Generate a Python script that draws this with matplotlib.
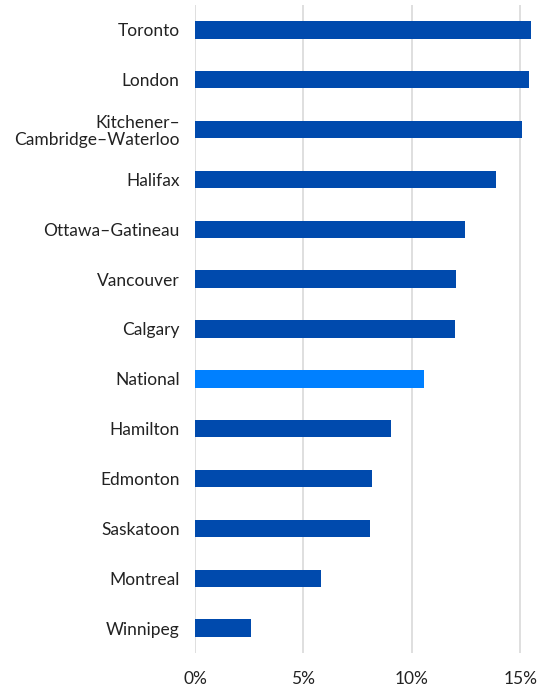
import matplotlib.pyplot as plt
from matplotlib.ticker import FuncFormatter

plt.rcParams['font.family'] = ['Lato', 'DejaVu Sans']

# data, top to bottom as in the chart
cities = ['Toronto', 'London', 'Kitchener–\nCambridge–Waterloo', 'Halifax',
          'Ottawa–Gatineau', 'Vancouver', 'Calgary', 'National', 'Hamilton',
          'Edmonton', 'Saskatoon', 'Montreal', 'Winnipeg']
values = [15.5, 15.4, 15.1, 13.9, 12.45, 12.05, 12.0, 10.55, 9.05,
          8.15, 8.07, 5.83, 2.6]
highlight = 'National'

dark = '#004AAD'
light = '#0080FF'
colors = [light if c == highlight else dark for c in cities]

fig = plt.figure(figsize=(5.43, 6.88), dpi=100)
ax = fig.add_axes([195/543, 1 - 653/688, (542 - 195)/543, (653 - 5)/688])

pos = list(range(len(cities)))[::-1]
ax.barh(pos, values, height=0.35, color=colors, zorder=3)

ax.set_ylim(-0.5, len(cities) - 0.5)
ax.set_xlim(0, 16)
ax.set_xticks([0, 5, 10, 15])
ax.xaxis.set_major_formatter(FuncFormatter(lambda v, p: '%d%%' % v))
ax.set_yticks(pos)
ax.set_yticklabels(cities, fontsize=12.5, color='#222222', linespacing=1.1)
ax.tick_params(axis='x', labelsize=12.5, colors='#222222', length=0, pad=13)
ax.tick_params(axis='y', length=0, pad=11)

ax.grid(axis='x', color='#d9d9d9', linewidth=1.2, zorder=0)
ax.grid(axis='y', visible=False)
for s in ax.spines.values():
    s.set_visible(False)

fig.savefig('out.png', dpi=100)
